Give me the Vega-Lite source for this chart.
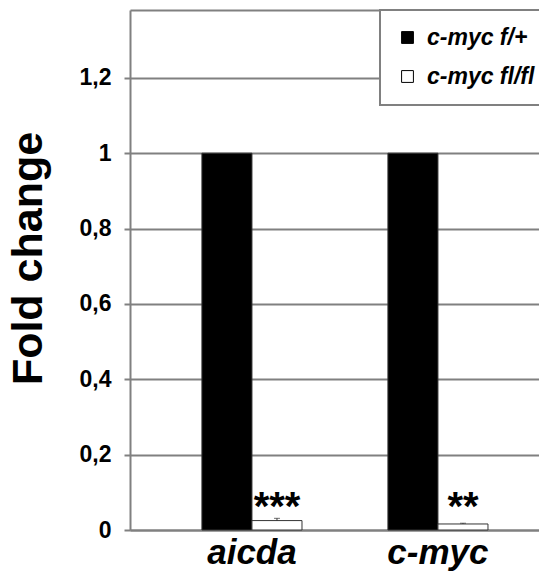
{
  "$schema": "https://vega.github.io/schema/vega-lite/v6.json",
  "width": 409,
  "height": 520,
  "autosize": "none",
  "padding": {"left": 130, "top": 10, "right": 0, "bottom": 45},
  "background": "white",
  "config": {"view": {"stroke": null}, "font": "Liberation Sans", "legend": {"strokeWidth": 2}},
  "data": {"values": [
    {"gene": "aicda", "genotype": "c-myc f/+", "value": 1, "hi": 1, "sig": ""},
    {"gene": "aicda", "genotype": "c-myc fl/fl", "value": 0.025, "hi": 0.031, "sig": "***"},
    {"gene": "c-myc", "genotype": "c-myc f/+", "value": 1, "hi": 1, "sig": ""},
    {"gene": "c-myc", "genotype": "c-myc fl/fl", "value": 0.016, "hi": 0.018, "sig": "**"}
  ]},
  "encoding": {
    "x": {
      "field": "gene", "type": "nominal", "sort": ["aicda", "c-myc"],
      "scale": {"paddingInner": 0.462, "paddingOuter": 0.3305, "align": 0.585},
      "axis": {"title": null, "labelAngle": 0, "labelFont": "Liberation Sans", "labelFontSize": 35, "labelFontWeight": "bold", "labelFontStyle": "italic", "labelColor": "black", "labelPadding": 5, "ticks": false, "domainColor": "#808080", "domainWidth": 2}
    },
    "xOffset": {"field": "genotype", "type": "nominal", "sort": ["c-myc f/+", "c-myc fl/fl"], "scale": {"paddingInner": 0, "paddingOuter": 0}}
  },
  "layer": [
    {
      "mark": {"type": "bar", "stroke": "#333", "strokeWidth": 1},
      "encoding": {
        "y": {
          "field": "value", "type": "quantitative",
          "scale": {"domain": [0, 1.38], "nice": false, "zero": true},
          "axis": {
            "title": "Fold change", "titleFontSize": 43, "titleFontWeight": "bold", "titleColor": "black", "titleFont": "Liberation Sans",
            "titleX": -80, "titleY": 248, "titleAngle": -90, "titleAlign": "center", "titleBaseline": "bottom",
            "values": [0, 0.2, 0.4, 0.6, 0.8, 1, 1.2, 1.38],
            "labelExpr": "datum.value > 1.3 ? '' : replace(format(datum.value, '~g'), '.', ',')",
            "labelFontSize": 23, "labelFontWeight": "bold", "labelColor": "black", "labelPadding": 13,
            "tickSize": 6, "tickColor": "#808080", "tickWidth": 2,
            "tickOpacity": {"condition": {"test": "datum.value > 1.3", "value": 0}, "value": 1},
            "grid": true, "gridColor": "#808080", "gridWidth": 2,
            "domainColor": "#808080", "domainWidth": 2
          }
        },
        "fill": {
          "field": "genotype", "type": "nominal",
          "scale": {"domain": ["c-myc f/+", "c-myc fl/fl"], "range": ["black", "white"]},
          "legend": {
            "title": null, "orient": "none", "legendX": 250, "legendY": 0,
            "symbolType": "square", "symbolSize": 140, "symbolStrokeColor": "black", "symbolStrokeWidth": 1,
            "labelFontSize": 23, "labelFontWeight": "bold", "labelFontStyle": "italic", "labelColor": "black", "labelFont": "Liberation Sans",
            "labelOffset": 8, "rowPadding": 15, "padding": 16, "strokeColor": "#808080", "fillColor": "white", "labelLimit": 0
          }
        }
      }
    },
    {
      "transform": [{"filter": "datum.hi > datum.value"}],
      "mark": {"type": "rule", "color": "#333", "strokeWidth": 1},
      "encoding": {"y": {"field": "value", "type": "quantitative"}, "y2": {"field": "hi"}}
    },
    {
      "transform": [{"filter": "datum.hi > datum.value"}],
      "mark": {"type": "tick", "color": "#333", "size": 6, "thickness": 1},
      "encoding": {"y": {"field": "hi", "type": "quantitative"}}
    },
    {
      "transform": [{"filter": "datum.sig != ''"}],
      "mark": {"type": "text", "fontSize": 40, "fontWeight": "bold", "baseline": "alphabetic", "dy": -10, "font": "Liberation Sans", "color": "black"},
      "encoding": {"y": {"datum": 0, "type": "quantitative"}, "text": {"field": "sig"}}
    }
  ]
}
